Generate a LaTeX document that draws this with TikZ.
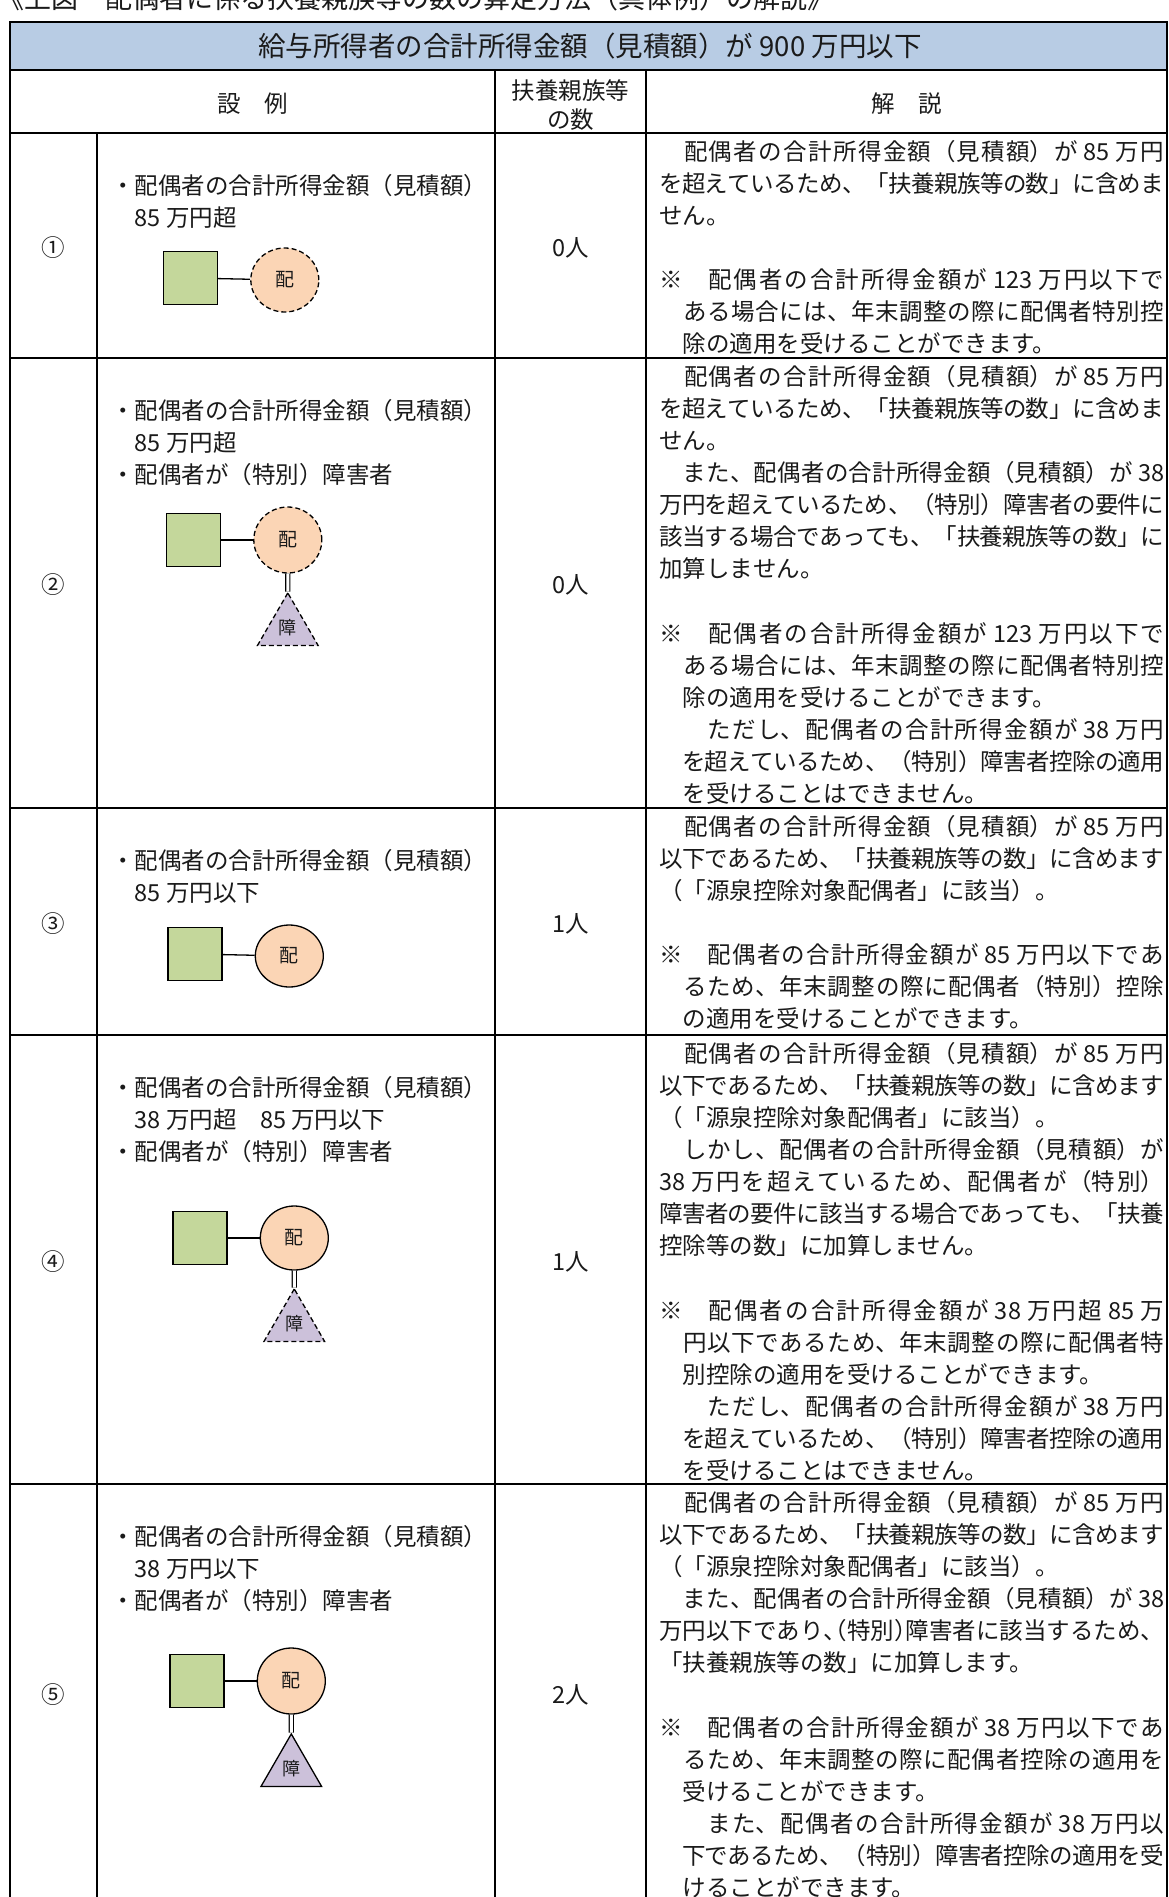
\documentclass[tikz,border=0pt]{standalone}
\usepackage{fontspec}
\setmainfont{Noto Sans CJK JP}
\usetikzlibrary{positioning, shapes.geometric}
\definecolor{titleBlue}{HTML}{B8CCE4}
\definecolor{earnerGreen}{HTML}{C4D79B}
\definecolor{spousePeach}{HTML}{FBD5B5}
\definecolor{disLilac}{HTML}{CCC1DA}
\definecolor{inkGray}{HTML}{1A1A1A}
\XeTeXlinebreaklocale "ja"
\XeTeXlinebreakskip=0pt plus 6pt minus 1pt
\tolerance=10000
\setlength\parindent{0pt}
\newcommand{\hcomma}{\makebox[.5em][l]{、}}
\newcommand{\hopen}[1]{\makebox[.5em][r]{#1}}
\newcommand{\hclose}[1]{\makebox[.5em][l]{#1}}

\begin{document}
\begin{tikzpicture}[x=1pt, y=-1pt,
  rule/.style={line width=1.6pt, line cap=rect},
  txt/.style={inner sep=0pt, text=inkGray, font=\fontsize{23.5}{32.1}\selectfont},
  bullets/.style={txt, anchor=north west, align=left},
  expl/.style={txt, anchor=north west, text width=505pt, align=justify},
  earner/.style={draw, line width=1.3pt, fill=earnerGreen, minimum width=54pt, minimum height=53pt, inner sep=0pt},
  spouse/.style={draw, line width=1.3pt, fill=spousePeach, ellipse, minimum width=68pt, minimum height=66pt, inner sep=0pt, text=inkGray, font=\fontsize{19}{19}\selectfont},
  disab/.style={draw, line width=1.3pt, fill=disLilac, regular polygon, regular polygon sides=3, minimum size=70pt, inner sep=0pt, text=inkGray, font=\fontsize{18}{18}\selectfont},
  nocount/.style={dash pattern=on 5pt off 3pt},
  tie/.style={line width=1.3pt},
  dtie/.style={double, double distance=3pt, line width=1.1pt}]
\useasboundingbox (0,0) rectangle (1169,1897);
\clip (0,0) rectangle (1169,1897);

% heading, cut off at the top
\node[txt, anchor=west, font=\fontsize{27}{27}\selectfont] (head) at (-3,-2) {《上図　配偶者に係る扶養親族等の数の算定方法（具体例）の解説》};

% table
\fill[titleBlue] (10,22) rectangle (1167,70);
\draw[rule] (10,22) rectangle (1167,1910);
\foreach \y in {70,133,358,808,1035,1484}
  \draw[rule] (10,\y) -- (1167,\y);
\draw[rule] (97,133) -- (97,1910);
\draw[rule] (495,70) -- (495,1910);
\draw[rule] (646,70) -- (646,1910);

\node[txt, font=\fontsize{27.5}{27.5}\selectfont] (title) at (590,46) {給与所得者の合計所得金額（見積額）が 900 万円以下};
\node[txt] (hcase) at (252.5,104) {設　例};
\node[txt, align=center, font=\fontsize{23.5}{29}\selectfont] (hcount) at (570.5,105) {扶養親族等\\の数};
\node[txt] (hexpl) at (906.5,104) {解　説};

% case 1
\node[txt] (no1) at (53.5,248) {①};
\node[bullets] (case1) at (111,174) {・配偶者の合計所得金額（見積額）\\　85 万円超};
\node[earner] (tp1) at (190.5,278) {};
\node[spouse, nocount, minimum height=64pt, right=32pt of tp1, yshift=-2pt] (sp1) {配};
\draw[tie] (tp1) -- (sp1);
\node[txt] (cnt1) at (570.5,248) {0人};
\node[expl] (expl1) at (659,140) {　配偶者の合計所得金額（見積額）が 85 万円\linebreak
を超えているため、「扶養親族等の数」に含めま\linebreak
せん。\\
\mbox{}\\
※　配偶者の合計所得金額が 123 万円以下で\linebreak
　ある場合には、年末調整の際に配偶者特別控\linebreak
　除の適用を受けることができます。};

% case 2
\node[txt] (no2) at (53.5,585) {②};
\node[bullets] (case2) at (111,399) {・配偶者の合計所得金額（見積額）\\　85 万円超\\・配偶者が（特別）障害者};
\node[earner] (tp2) at (193.5,540) {};
\node[spouse, nocount, right=32pt of tp2] (sp2) {配};
\node[disab, nocount, below=18pt of sp2] (dis2) {障};
\draw[tie] (tp2) -- (sp2);
\draw[dtie] (sp2) -- (dis2);
\node[txt] (cnt2) at (570.5,585) {0人};
\node[expl] (expl2) at (659,365) {　配偶者の合計所得金額（見積額）が 85 万円\linebreak
を超えているため、「扶養親族等の数」に含めま\linebreak
せん。\\
　また、配偶者の合計所得金額（見積額）が 38\linebreak
万円を超えているため、（特別）障害者の要件に\linebreak
該当する場合であっても、「扶養親族等の数」に\linebreak
加算しません。\\
\mbox{}\\
※　配偶者の合計所得金額が 123 万円以下で\linebreak
　ある場合には、年末調整の際に配偶者特別控\linebreak
　除の適用を受けることができます。\\
　　ただし、配偶者の合計所得金額が 38 万円\linebreak
　を超えているため、（特別）障害者控除の適用\linebreak
　を受けることはできません。};

% case 3
\node[txt] (no3) at (53.5,924) {③};
\node[bullets] (case3) at (111,849) {・配偶者の合計所得金額（見積額）\\　85 万円以下};
\node[earner] (tp3) at (195,954) {};
\node[spouse, minimum height=62pt, right=32pt of tp3, yshift=-2pt] (sp3) {配};
\draw[tie] (tp3) -- (sp3);
\node[txt] (cnt3) at (570.5,924) {1人};
\node[expl] (expl3) at (659,815) {　配偶者の合計所得金額（見積額）が 85 万円\linebreak
以下であるため、「扶養親族等の数」に含めます\linebreak
（「源泉控除対象配偶者」に該当）。\\
\mbox{}\\
※　配偶者の合計所得金額が 85 万円以下であ\linebreak
　るため、年末調整の際に配偶者（特別）控除\linebreak
　の適用を受けることができます。};

% case 4
\node[txt] (no4) at (53.5,1262) {④};
\node[bullets] (case4) at (111,1076) {・配偶者の合計所得金額（見積額）\\　38 万円超　85 万円以下\\・配偶者が（特別）障害者};
\node[earner] (tp4) at (200,1238) {};
\node[spouse, minimum height=64pt, right=32pt of tp4] (sp4) {配};
\node[disab, nocount, below=17pt of sp4] (dis4) {障};
\draw[tie] (tp4) -- (sp4);
\draw[dtie] (sp4) -- (dis4);
\node[txt] (cnt4) at (570.5,1262) {1人};
\node[expl] (expl4) at (659,1042) {　配偶者の合計所得金額（見積額）が 85 万円\linebreak
以下であるため、「扶養親族等の数」に含めます\linebreak
（「源泉控除対象配偶者」に該当）。\\
　しかし、配偶者の合計所得金額（見積額）が\linebreak
38 万円を超えているため、配偶者が（特別）\linebreak
障害者の要件に該当する場合であっても、「扶養\linebreak
控除等の数」に加算しません。\\
\mbox{}\\
※　配偶者の合計所得金額が 38 万円超 85 万\linebreak
　円以下であるため、年末調整の際に配偶者特\linebreak
　別控除の適用を受けることができます。\\
　　ただし、配偶者の合計所得金額が 38 万円\linebreak
　を超えているため、（特別）障害者控除の適用\linebreak
　を受けることはできません。};

% case 5
\node[txt] (no5) at (53.5,1695) {⑤};
\node[bullets] (case5) at (111,1525) {・配偶者の合計所得金額（見積額）\\　38 万円以下\\・配偶者が（特別）障害者};
\node[earner] (tp5) at (197,1681) {};
\node[spouse, right=32pt of tp5] (sp5) {配};
\node[disab, below=18pt of sp5] (dis5) {障};
\draw[tie] (tp5) -- (sp5);
\draw[dtie] (sp5) -- (dis5);
\node[txt] (cnt5) at (570.5,1695) {2人};
\node[expl] (expl5) at (659,1491) {　配偶者の合計所得金額（見積額）が 85 万円\linebreak
以下であるため、「扶養親族等の数」に含めます\linebreak
（「源泉控除対象配偶者」に該当）。\\
　また、配偶者の合計所得金額（見積額）が 38\linebreak
万円以下であり\hcomma\hopen{（}特別\hclose{）}障害者に該当するため、\linebreak
「扶養親族等の数」に加算します。\\
\mbox{}\\
※　配偶者の合計所得金額が 38 万円以下であ\linebreak
　るため、年末調整の際に配偶者控除の適用を\linebreak
　受けることができます。\\
　　また、配偶者の合計所得金額が 38 万円以\linebreak
　下であるため、（特別）障害者控除の適用を受\linebreak
　けることができます。};
\end{tikzpicture}
\end{document}
